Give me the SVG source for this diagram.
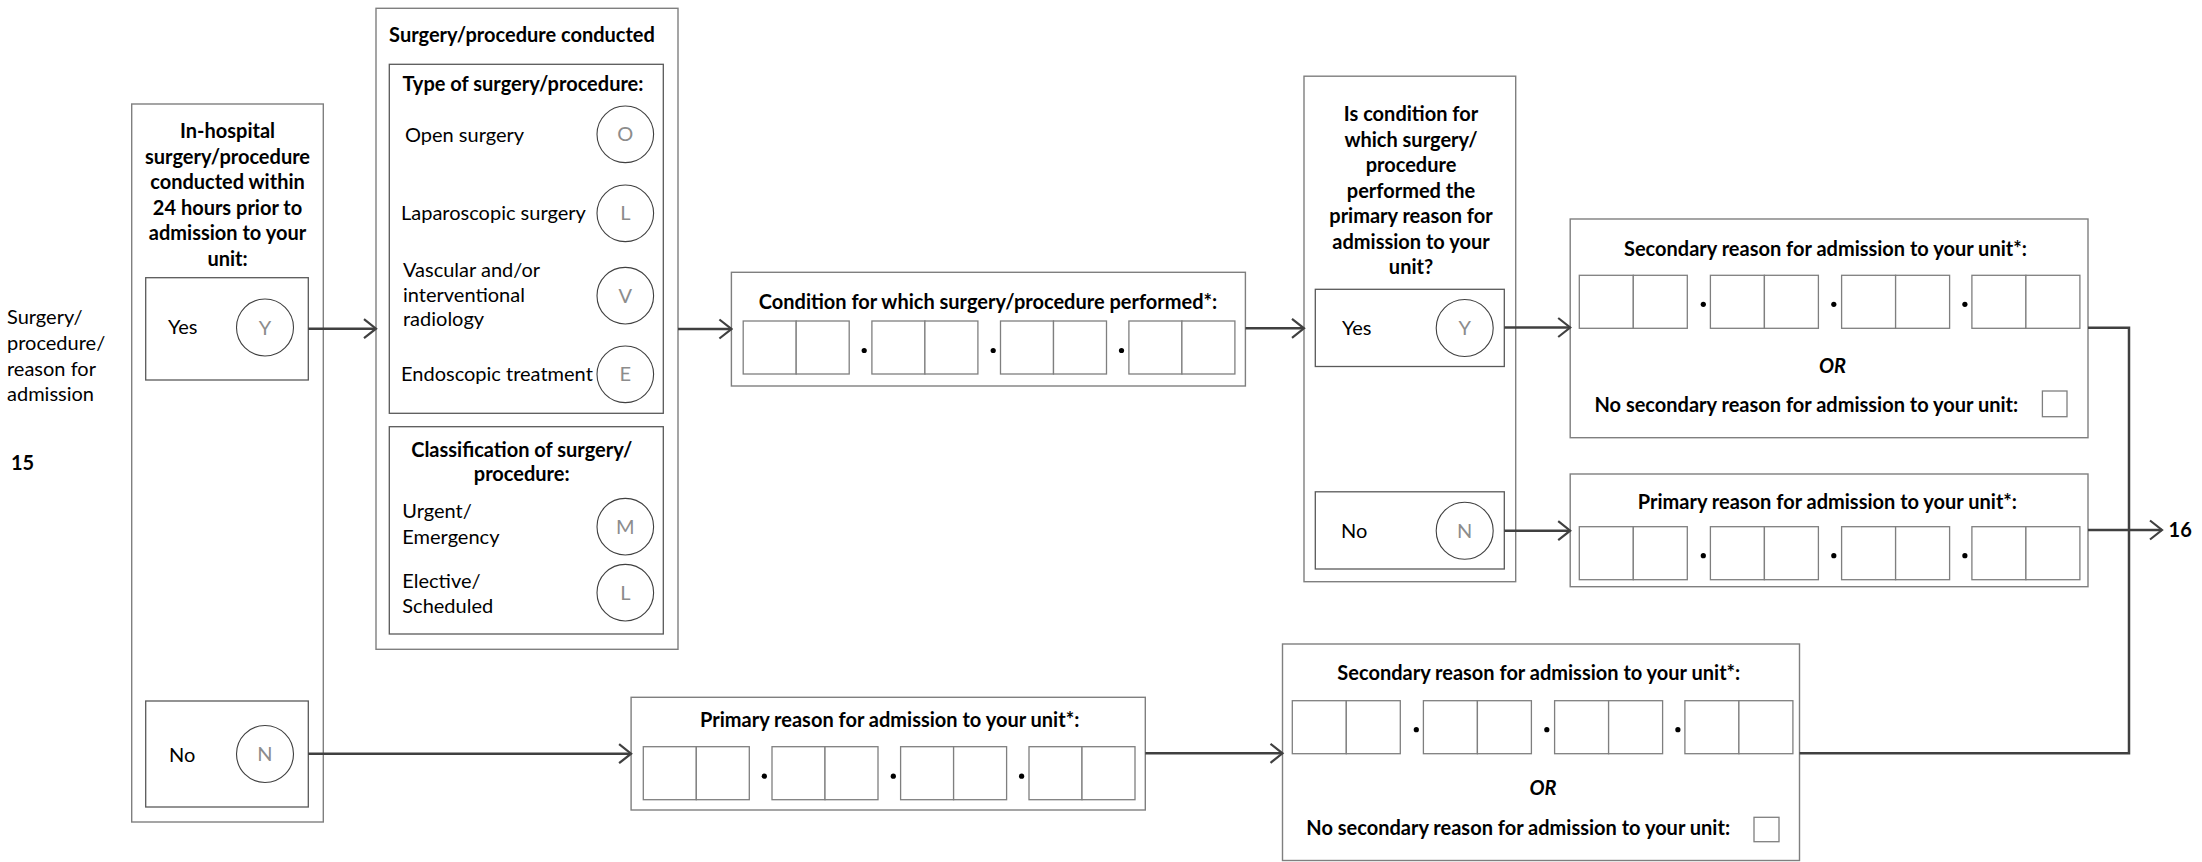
<svg xmlns="http://www.w3.org/2000/svg" width="2202" height="862" viewBox="0 0 2202 862">
<style>
.box{fill:#fff;stroke:#7f7f7f;stroke-width:1.4}
.ibox{fill:#fff;stroke:#595959;stroke-width:1.3}
.cell{fill:#fff;stroke:#7f7f7f;stroke-width:1.3}
.circ{fill:#fff;stroke:#404040;stroke-width:1.1}
.t{font-family:Lato,"Liberation Sans",sans-serif;font-size:20px;fill:#000}
.b{font-weight:bold}
.c{text-anchor:middle}
.lt{font-family:Lato,"Liberation Sans",sans-serif;font-size:20px;fill:#8c8c8c;text-anchor:middle}
.conn{stroke:#404040;stroke-width:2.5;fill:none}
.dot{fill:#000}
</style>
<defs>
<marker id="arr" markerUnits="userSpaceOnUse" markerWidth="16" markerHeight="24" viewBox="0 0 16 24" refX="14" refY="12" orient="auto">
<path d="M2,2.5 L14,12 L2,21.5" fill="none" stroke="#404040" stroke-width="2.2"/>
</marker>
<g id="codeA">
<rect class="cell" x="0" y="0" width="53" height="53"/><rect class="cell" x="53" y="0" width="53" height="53"/>
<circle class="dot" cx="121" cy="29.5" r="2.6"/>
<rect class="cell" x="128.7" y="0" width="53" height="53"/><rect class="cell" x="181.7" y="0" width="53" height="53"/>
<circle class="dot" cx="250" cy="29.5" r="2.6"/>
<rect class="cell" x="257.3" y="0" width="53" height="53"/><rect class="cell" x="310.3" y="0" width="53" height="53"/>
<circle class="dot" cx="378.3" cy="29.5" r="2.6"/>
<rect class="cell" x="385.7" y="0" width="53" height="53"/><rect class="cell" x="438.7" y="0" width="53" height="53"/>
</g>
<g id="codeB">
<rect class="cell" x="0" y="0" width="54" height="53"/><rect class="cell" x="54" y="0" width="54" height="53"/>
<circle class="dot" cx="124" cy="29" r="2.6"/>
<rect class="cell" x="131.1" y="0" width="54" height="53"/><rect class="cell" x="185.1" y="0" width="54" height="53"/>
<circle class="dot" cx="254.5" cy="29" r="2.6"/>
<rect class="cell" x="262.3" y="0" width="54" height="53"/><rect class="cell" x="316.3" y="0" width="54" height="53"/>
<circle class="dot" cx="385.6" cy="29" r="2.6"/>
<rect class="cell" x="392.6" y="0" width="54" height="53"/><rect class="cell" x="446.6" y="0" width="54" height="53"/>
</g>
</defs>
<rect width="2202" height="862" fill="#fff"/>

<g id="side-label">
<text class="t" x="7" y="324">Surgery/</text>
<text class="t" x="7" y="350">procedure/</text>
<text class="t" x="7" y="376">reason for</text>
<text class="t" x="7" y="401">admission</text>
<text class="t b" x="11" y="470">15</text>
</g>

<g id="in-hospital">
<rect class="box" x="131.7" y="104" width="191.6" height="718"/>
<text class="t b c" x="227.5" y="138">In-hospital</text>
<text class="t b c" x="227.5" y="163.5">surgery/procedure</text>
<text class="t b c" x="227.5" y="189">conducted within</text>
<text class="t b c" x="227.5" y="214.5">24 hours prior to</text>
<text class="t b c" x="227.5" y="240">admission to your</text>
<text class="t b c" x="227.5" y="265.5">unit:</text>
</g>
<g id="in-hospital-yes">
<rect class="ibox" x="145.7" y="277.7" width="162.6" height="102.3"/>
<text class="t" x="168" y="334">Yes</text>
<circle class="circ" cx="265" cy="327.5" r="28.5"/>
<text class="lt" x="265" y="334.5">Y</text>
</g>
<g id="in-hospital-no">
<rect class="ibox" x="145.7" y="701" width="162.6" height="106"/>
<text class="t" x="169" y="761.5">No</text>
<circle class="circ" cx="265" cy="754" r="28.5"/>
<text class="lt" x="265" y="761">N</text>
</g>

<g id="surgery-conducted">
<rect class="box" x="376" y="8.3" width="302" height="641"/>
<text class="t b c" x="522" y="41.7">Surgery/procedure conducted</text>
</g>
<g id="type-of-surgery">
<rect class="ibox" x="389.3" y="64.3" width="274" height="349"/>
<text class="t b c" x="523" y="90.7">Type of surgery/procedure:</text>
<text class="t" x="405" y="142">Open surgery</text>
<circle class="circ" cx="625.3" cy="134.3" r="28.3"/>
<text class="lt" x="625.3" y="141.3">O</text>
<text class="t" x="401" y="220">Laparoscopic surgery</text>
<circle class="circ" cx="625.3" cy="213.3" r="28.3"/>
<text class="lt" x="625.3" y="220.3">L</text>
<text class="t" x="403" y="277.3">Vascular and/or</text>
<text class="t" x="403" y="302">interventional</text>
<text class="t" x="403" y="326">radiology</text>
<circle class="circ" cx="625.3" cy="295.7" r="28.3"/>
<text class="lt" x="625.3" y="302.7">V</text>
<text class="t" x="401" y="381">Endoscopic treatment</text>
<circle class="circ" cx="625.3" cy="374.3" r="28.3"/>
<text class="lt" x="625.3" y="381.3">E</text>
</g>
<g id="classification">
<rect class="ibox" x="389.3" y="426.7" width="274" height="207.3"/>
<text class="t b c" x="521.7" y="456.7">Classification of surgery/</text>
<text class="t b c" x="521.7" y="480.7">procedure:</text>
<text class="t" x="402.3" y="518">Urgent/</text>
<text class="t" x="402.3" y="544">Emergency</text>
<circle class="circ" cx="625.3" cy="526.7" r="28.3"/>
<text class="lt" x="625.3" y="533.7">M</text>
<text class="t" x="402.3" y="588">Elective/</text>
<text class="t" x="402.3" y="612.5">Scheduled</text>
<circle class="circ" cx="625.3" cy="592.7" r="28.3"/>
<text class="lt" x="625.3" y="599.7">L</text>
</g>

<g id="condition">
<rect class="box" x="731.4" y="272.3" width="514" height="113.7"/>
<text class="t b c" x="988" y="309.3">Condition for which surgery/procedure performed*:</text>
<use href="#codeA" x="743.2" y="321"/>
</g>

<g id="question">
<rect class="box" x="1304" y="76.2" width="211.7" height="505.5"/>
<text class="t b c" x="1411" y="121.3">Is condition for</text>
<text class="t b c" x="1411" y="146.5">which surgery/</text>
<text class="t b c" x="1411" y="172">procedure</text>
<text class="t b c" x="1411" y="197.5">performed the</text>
<text class="t b c" x="1411" y="222.5">primary reason for</text>
<text class="t b c" x="1411" y="248.5">admission to your</text>
<text class="t b c" x="1411" y="273.5">unit?</text>
</g>
<g id="question-yes">
<rect class="ibox" x="1315.3" y="289.3" width="189" height="77.2"/>
<text class="t" x="1342" y="334.5">Yes</text>
<circle class="circ" cx="1464.7" cy="328" r="28.5"/>
<text class="lt" x="1464.7" y="335">Y</text>
</g>
<g id="question-no">
<rect class="ibox" x="1315.3" y="491.8" width="189" height="77.2"/>
<text class="t" x="1341" y="537.5">No</text>
<circle class="circ" cx="1464.7" cy="530.7" r="28.5"/>
<text class="lt" x="1464.7" y="537.7">N</text>
</g>

<g id="secondary-top">
<rect class="box" x="1570.2" y="219" width="517.8" height="218.7"/>
<text class="t b c" x="1825.4" y="256">Secondary reason for admission to your unit*:</text>
<use href="#codeB" x="1579.3" y="275.3"/>
<text class="t b c" x="1832.5" y="372.7" font-style="italic">OR</text>
<text class="t b c" x="1806.3" y="411.7">No secondary reason for admission to your unit:</text>
<rect class="cell" x="2042.4" y="391" width="24.6" height="25.7"/>
</g>

<g id="primary-right">
<rect class="box" x="1570.2" y="474" width="517.8" height="112.7"/>
<text class="t b c" x="1827.4" y="509.3">Primary reason for admission to your unit*:</text>
<use href="#codeB" x="1579.3" y="526.7"/>
</g>

<g id="primary-bottom">
<rect class="box" x="631.1" y="697.3" width="514.2" height="112.7"/>
<text class="t b c" x="889.7" y="726.7">Primary reason for admission to your unit*:</text>
<use href="#codeA" x="643.3" y="746.7"/>
</g>

<g id="secondary-bottom">
<rect class="box" x="1282.5" y="644" width="517" height="216.5"/>
<text class="t b c" x="1538.8" y="680">Secondary reason for admission to your unit*:</text>
<use href="#codeB" x="1292.3" y="700.7"/>
<text class="t b c" x="1543" y="795" font-style="italic">OR</text>
<text class="t b c" x="1518.2" y="835">No secondary reason for admission to your unit:</text>
<rect class="cell" x="1754" y="817.3" width="25" height="24.4"/>
</g>

<g id="next">
<text class="t b" x="2168.6" y="537.3">16</text>
</g>

<g id="connectors">
<path class="conn" d="M308.3,328.7 H376" marker-end="url(#arr)"/>
<path class="conn" d="M678,329 H731.4" marker-end="url(#arr)"/>
<path class="conn" d="M1245.4,328.3 H1304" marker-end="url(#arr)"/>
<path class="conn" d="M1504.3,327.5 H1570.2" marker-end="url(#arr)"/>
<path class="conn" d="M1504.3,530.7 H1570.2" marker-end="url(#arr)"/>
<path class="conn" d="M308.3,753.7 H631.1" marker-end="url(#arr)"/>
<path class="conn" d="M1145.3,753.3 H1282.5" marker-end="url(#arr)"/>
<path class="conn" d="M2088,327.7 H2129 V753.3 H1799.5"/>
<path class="conn" d="M2088,530 H2162" marker-end="url(#arr)"/>
</g>
</svg>
